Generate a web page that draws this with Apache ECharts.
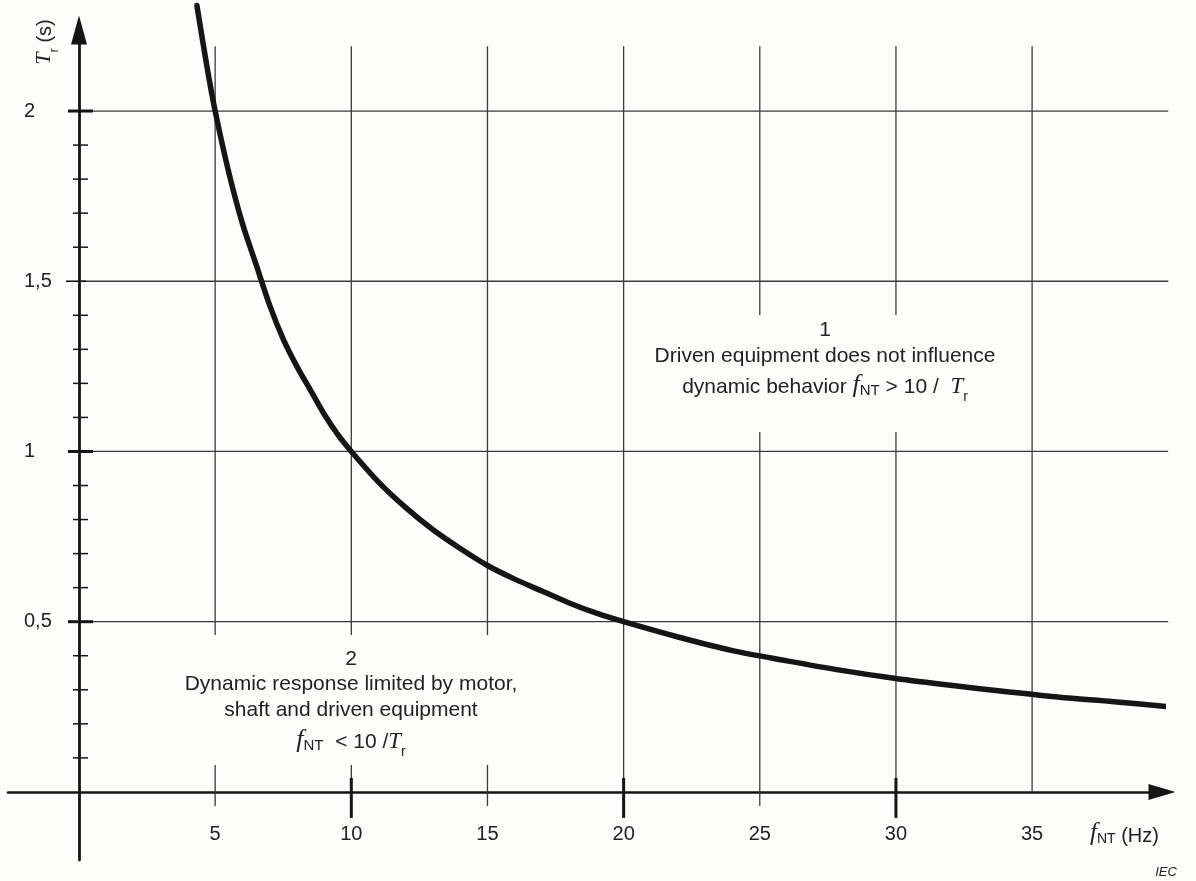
<!DOCTYPE html>
<html>
<head>
<meta charset="utf-8">
<script src="https://cdn.jsdelivr.net/npm/echarts@6/dist/echarts.min.js"></script>
<style>
  html, body { margin: 0; padding: 0; background: #fdfdfc; }
  #chart { width: 1196px; height: 881px; }
</style>
</head>
<body>
<div id="chart"></div>
<script>
// Frequency axis f_NT (Hz)
const freqTicks = [5, 10, 15, 20, 25, 30, 35];
const freqMajorTicks = [10, 20, 30];
const freqOuterTicks = [5, 15, 25];
// Response time axis T_r (s)
const timeLabels = [0.5, 1, 1.5, 2];
const timeMajorTicks = [0.5, 1, 2];
const timeMidTicks = [1.5];
const timeMinorTicks = [0.1, 0.2, 0.3, 0.4, 0.6, 0.7, 0.8, 0.9, 1.1, 1.2, 1.3, 1.4, 1.6, 1.7, 1.8, 1.9];

// Boundary curve between the two regions
const curveFreq = [4.33, 4.7, 5.0, 5.5, 6.0, 6.5, 7.0, 7.5, 8.0, 8.5, 9.0, 9.5, 10, 11, 12, 13, 14, 15, 16, 17, 18, 19, 20, 22, 24, 26, 28, 30, 32, 34, 36, 38, 40];
const curveTime = [2.31, 2.13, 2.0, 1.82, 1.67, 1.55, 1.43, 1.33, 1.25, 1.18, 1.11, 1.05, 1.0, 0.91, 0.835, 0.77, 0.715, 0.665, 0.625, 0.59, 0.555, 0.525, 0.5, 0.455, 0.415, 0.385, 0.357, 0.333, 0.313, 0.295, 0.278, 0.265, 0.25];

const INK = '#151515';
const GRID_INK = '#3a3a3a';
const TEXT_INK = '#222';
const PAPER = '#fdfdfc';
const SANS = 'Liberation Sans, Arial, sans-serif';
const SERIF = 'Liberation Serif, Times New Roman, serif';

const GRID_TOP_T = 2.19;   // upper end of the vertical grid lines
const GRID_RIGHT_F = 40;   // right end of the horizontal grid lines
const LABEL_LEFT = 24;     // left edge of the time-axis labels

const chart = echarts.init(document.getElementById('chart'), null, { renderer: 'canvas' });

function segment(x1, y1, x2, y2, width, color) {
  return {
    type: 'line',
    shape: { x1: x1, y1: y1, x2: x2, y2: y2 },
    style: { stroke: color || INK, lineWidth: width }
  };
}

// rich-text pieces shared by the formula labels
function richSet(base) {
  const b = base || 21;
  return {
    a:  { fontFamily: SANS, fontSize: b, lineHeight: 28, padding: [0, 0, 6, 0], verticalAlign: 'bottom', color: TEXT_INK },
    f:  { fontFamily: SERIF, fontStyle: 'italic', fontSize: b + 5, lineHeight: 28, padding: [0, 0, 6, 0], verticalAlign: 'bottom', color: TEXT_INK },
    nt: { fontFamily: SANS, fontSize: Math.round(b * 0.72), lineHeight: 24, padding: [0, 0, 6, 0], verticalAlign: 'bottom', color: TEXT_INK },
    t:  { fontFamily: SERIF, fontStyle: 'italic', fontSize: b + 2, lineHeight: 28, padding: [0, 0, 6, 0], verticalAlign: 'bottom', color: TEXT_INK },
    r:  { fontFamily: SANS, fontSize: Math.round(b * 0.66), lineHeight: 14, verticalAlign: 'bottom', color: TEXT_INK }
  };
}

function plainText(text, x, y, size, style) {
  return {
    type: 'text', x: x, y: y, z: 20, silent: true,
    style: Object.assign({
      text: text, fill: TEXT_INK, fontFamily: SANS, fontSize: size || 21,
      align: 'center', verticalAlign: 'middle', textAlign: 'center', textVerticalAlign: 'middle'
    }, style || {})
  };
}

function richText(text, x, y, base, align, extra) {
  return Object.assign({
    type: 'text', x: x, y: y, z: 20, silent: true,
    style: {
      text: text, rich: richSet(base), fill: TEXT_INK,
      align: align || 'center', verticalAlign: 'middle',
      textAlign: align || 'center', textVerticalAlign: 'middle'
    }
  }, extra || {});
}

function labelStyle(text, align) {
  return {
    text: text, fill: TEXT_INK, fontFamily: SANS, fontSize: 20,
    align: align, verticalAlign: 'middle', textAlign: align, textVerticalAlign: 'middle'
  };
}

const option = {
  backgroundColor: PAPER,
  animation: false,
  grid: { left: 8, top: 30, width: 1154, height: 830, containLabel: false, outerBoundsMode: 'none' },
  xAxis: {
    type: 'value',
    min: -2.607,
    max: 39.77,
    axisLine: {
      show: true, onZero: true,
      symbol: ['none', 'triangle'], symbolSize: [16, 27],
      lineStyle: { color: INK, width: 2.6 }
    },
    axisTick: { show: false },
    splitLine: { show: false },
    axisLabel: { show: false }
  },
  yAxis: {
    type: 'value',
    min: -0.2,
    max: 2.238,
    axisLine: {
      show: true, onZero: true,
      symbol: ['none', 'triangle'], symbolSize: [16, 29],
      lineStyle: { color: INK, width: 2.8 }
    },
    axisTick: { show: false },
    splitLine: { show: false },
    axisLabel: { show: false }
  },
  series: [
    {
      // vertical grid lines
      type: 'custom', z: 1, silent: true,
      data: freqTicks.map(function (f) { return [f, 0]; }),
      renderItem: function (params, api) {
        const f = api.value(0);
        const top = api.coord([f, GRID_TOP_T]);
        const base = api.coord([f, 0]);
        const ext = freqOuterTicks.indexOf(f) >= 0 ? 14 : 0;
        return segment(top[0], top[1], base[0], base[1] + ext, 1.3, GRID_INK);
      }
    },
    {
      // horizontal grid lines
      type: 'custom', z: 1, silent: true,
      data: timeLabels.map(function (t) { return [0, t]; }),
      renderItem: function (params, api) {
        const t = api.value(1);
        const a = api.coord([0, t]);
        const b = api.coord([GRID_RIGHT_F, t]);
        return segment(a[0], a[1], b[0], b[1], 1.3, GRID_INK);
      }
    },
    {
      // minor ticks on the time axis
      type: 'custom', z: 3, silent: true,
      data: timeMinorTicks.map(function (t) { return [0, t]; }),
      renderItem: function (params, api) {
        const p = api.coord([0, api.value(1)]);
        return segment(p[0] - 6, p[1], p[0] + 9, p[1], 1.5);
      }
    },
    {
      type: 'custom', z: 3, silent: true,
      data: timeMidTicks.map(function (t) { return [0, t]; }),
      renderItem: function (params, api) {
        const p = api.coord([0, api.value(1)]);
        return segment(p[0] - 13, p[1], p[0] + 7, p[1], 1.6);
      }
    },
    {
      // major ticks on the time axis
      type: 'custom', z: 3, silent: true,
      data: timeMajorTicks.map(function (t) { return [0, t]; }),
      renderItem: function (params, api) {
        const p = api.coord([0, api.value(1)]);
        return segment(p[0] - 11, p[1], p[0] + 14, p[1], 3);
      }
    },
    {
      // major ticks on the frequency axis
      type: 'custom', z: 3, silent: true,
      data: freqMajorTicks.map(function (f) { return [f, 0]; }),
      renderItem: function (params, api) {
        const p = api.coord([api.value(0), 0]);
        return segment(p[0], p[1] - 14, p[0], p[1] + 26, 3);
      }
    },
    {
      // frequency tick labels, below the axis line
      type: 'custom', z: 4, silent: true,
      data: freqTicks.map(function (f) { return [f, 0]; }),
      renderItem: function (params, api) {
        const f = api.value(0);
        const p = api.coord([f, 0]);
        return { type: 'text', x: p[0], y: p[1] + 43, style: labelStyle(String(f), 'center') };
      }
    },
    {
      // time tick labels, decimal comma
      type: 'custom', z: 4, silent: true,
      data: timeLabels.map(function (t) { return [0, t]; }),
      renderItem: function (params, api) {
        const t = api.value(1);
        const p = api.coord([0, t]);
        return { type: 'text', x: LABEL_LEFT, y: p[1], style: labelStyle(String(t).replace('.', ','), 'left') };
      }
    },
    {
      // f_NT = 10 / T_r boundary
      type: 'line', z: 5, silent: true,
      clip: false,
      showSymbol: false,
      smooth: 0.3,
      data: curveFreq.map(function (f, i) { return [f, curveTime[i]]; }),
      lineStyle: { color: INK, width: 5.5, cap: 'round', join: 'round' }
    }
  ],
  graphic: [
    // text panels sit on paper colour so the grid lines stop short of them
    { type: 'rect', z: 10, silent: true, shape: { x: 648, y: 315, width: 354, height: 117 }, style: { fill: PAPER } },
    { type: 'rect', z: 10, silent: true, shape: { x: 178, y: 635, width: 346, height: 130 }, style: { fill: PAPER } },

    // region 1
    plainText('1', 825, 330, 21),
    plainText('Driven equipment does not influence', 825, 356, 21),
    richText('{a|dynamic behavior }{f|f}{nt|NT}{a| > 10 /  }{t|T}{r|r}', 825, 390, 21),

    // region 2
    plainText('2', 351, 659, 21),
    plainText('Dynamic response limited by motor,', 351, 684, 21),
    plainText('shaft and driven equipment', 351, 710, 21),
    richText('{f|f}{nt|NT}{a|  < 10 /}{t|T}{r|r}', 351, 745, 21),

    // axis titles
    richText('{f|f}{nt|NT}{a| (Hz)}', 1090, 838, 20, 'left'),
    richText('{t|T}{r|r}{a| (s)}', 47, 42, 20, 'center', { rotation: Math.PI / 2 }),

    plainText('IEC', 1166, 872, 13, { fontStyle: 'italic' })
  ]
};

chart.setOption(option);
</script>
</body>
</html>
